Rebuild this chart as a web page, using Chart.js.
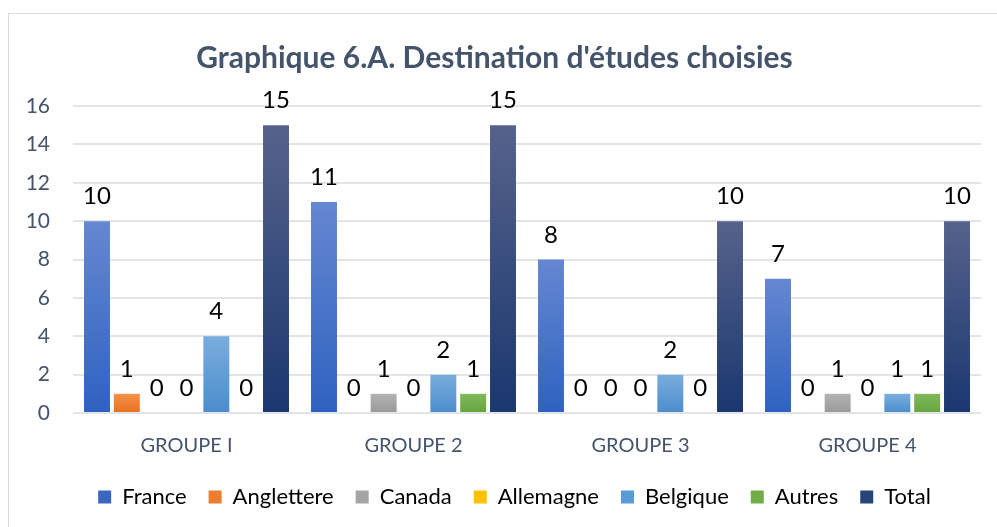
<!DOCTYPE html>
<html>
<head>
<meta charset="utf-8">
<script src="https://cdn.jsdelivr.net/npm/chart.js@4"></script>
<style>
  html, body { margin: 0; padding: 0; background: #fff; overflow: hidden; }
  #frame { position: absolute; left: 8px; top: 13px; width: 1100px; height: 600px; border: 1px solid #d9dde3; }
  #wrap { position: absolute; left: 0; top: 0; width: 997px; height: 527px; }
</style>
</head>
<body>
<div id="frame"></div>
<div id="wrap"><canvas id="chart"></canvas></div>
<script>
// data
const categories = ['GROUPE I', 'GROUPE 2', 'GROUPE 3', 'GROUPE 4'];
const seriesNames = ['France', 'Anglettere', 'Canada', 'Allemagne', 'Belgique', 'Autres', 'Total'];
const france = [10, 11, 8, 7];
const anglettere = [1, 0, 0, 0];
const canada = [0, 1, 0, 1];
const allemagne = [0, 0, 0, 0];
const belgique = [4, 2, 2, 1];
const autres = [0, 1, 0, 1];
const total = [15, 15, 10, 10];
const yMax = 16;
const yStep = 2;

const FONT = "Lato, 'Liberation Sans', sans-serif";
const textColor = '#44546a';

// gradient top / bottom and legend colour per series
const gradTop = ['#6687d1', '#f3924a', '#b3b3b3', '#ffca28', '#7badde', '#7fb95a', '#56628b'];
const gradBottom = ['#2e62c0', '#e86f1f', '#999999', '#f5b800', '#4a8dcc', '#66a53e', '#1a376f'];
const legendColors = ['#3a66c0', '#ed7d31', '#a5a5a5', '#ffc000', '#5b9bd5', '#70ad47', '#264478'];

function barGradient(i) {
    return function(ctx) {
        const chart = ctx.chart;
        if (ctx.type !== 'data' || !chart.chartArea) return gradBottom[i];
        const y = chart.scales.y;
        const yTop = y.getPixelForValue(ctx.raw);
        const yBot = y.getPixelForValue(0);
        if (yBot - yTop < 1) return gradBottom[i];
        const g = chart.ctx.createLinearGradient(0, yTop, 0, yBot);
        g.addColorStop(0, gradTop[i]);
        g.addColorStop(1, gradBottom[i]);
        return g;
    };
}

const values = [france, anglettere, canada, allemagne, belgique, autres, total];

// value labels above every bar
const valueLabels = {
    id: 'valueLabels',
    afterDatasetsDraw(chart) {
        const c = chart.ctx;
        c.save();
        c.font = '24px ' + FONT;
        c.fillStyle = '#000';
        c.textAlign = 'center';
        c.textBaseline = 'alphabetic';
        chart.data.datasets.forEach((ds, i) => {
            chart.getDatasetMeta(i).data.forEach((bar, j) => {
                c.fillText(String(ds.data[j]), bar.x, bar.y - 17);
            });
        });
        c.restore();
    }
};

// pull the legend a little closer to the axis labels, and a bit to the right
const legendShift = {
    id: 'legendShift',
    afterLayout(chart) {
        const lg = chart.legend;
        if (!lg) return;
        lg.top -= 7;
        lg.bottom -= 7;
        lg.left += 20;
        lg.right += 20;
    }
};

new Chart(document.getElementById('chart'), {
    type: 'bar',
    data: {
        labels: categories,
        datasets: seriesNames.map((name, i) => ({
            label: name,
            data: values[i],
            backgroundColor: barGradient(i),
            borderWidth: 0,
            categoryPercentage: 0.92,
            barPercentage: 0.87
        }))
    },
    options: {
        responsive: true,
        maintainAspectRatio: false,
        animation: false,
        layout: { padding: { left: 8, right: 16, top: 40, bottom: 2 } },
        scales: {
            x: {
                grid: { display: false },
                border: { display: false },
                ticks: { color: textColor, font: { family: FONT, size: 20 }, padding: 13 }
            },
            y: {
                min: 0,
                max: yMax,
                afterFit: s => { s.width = 65; },
                ticks: { stepSize: yStep, color: textColor, font: { family: FONT, size: 21 }, padding: 23 },
                grid: { color: '#e1e4e9', lineWidth: 2, drawTicks: false },
                border: { display: false }
            }
        },
        plugins: {
            title: {
                display: true,
                text: "Graphique 6.A. Destination d'études choisies",
                color: textColor,
                font: { family: FONT, size: 30, weight: 'bold' },
                padding: { top: 0, bottom: 30 }
            },
            legend: {
                position: 'bottom',
                labels: {
                    boxWidth: 13,
                    boxHeight: 13,
                    padding: 22,
                    color: textColor,
                    font: { family: FONT, size: 22 },
                    generateLabels: chart => seriesNames.map((name, i) => ({
                        text: name,
                        fillStyle: legendColors[i],
                        strokeStyle: legendColors[i],
                        lineWidth: 0,
                        hidden: false,
                        datasetIndex: i
                    }))
                }
            },
            tooltip: { enabled: false }
        }
    },
    plugins: [valueLabels, legendShift]
});
</script>
</body>
</html>
